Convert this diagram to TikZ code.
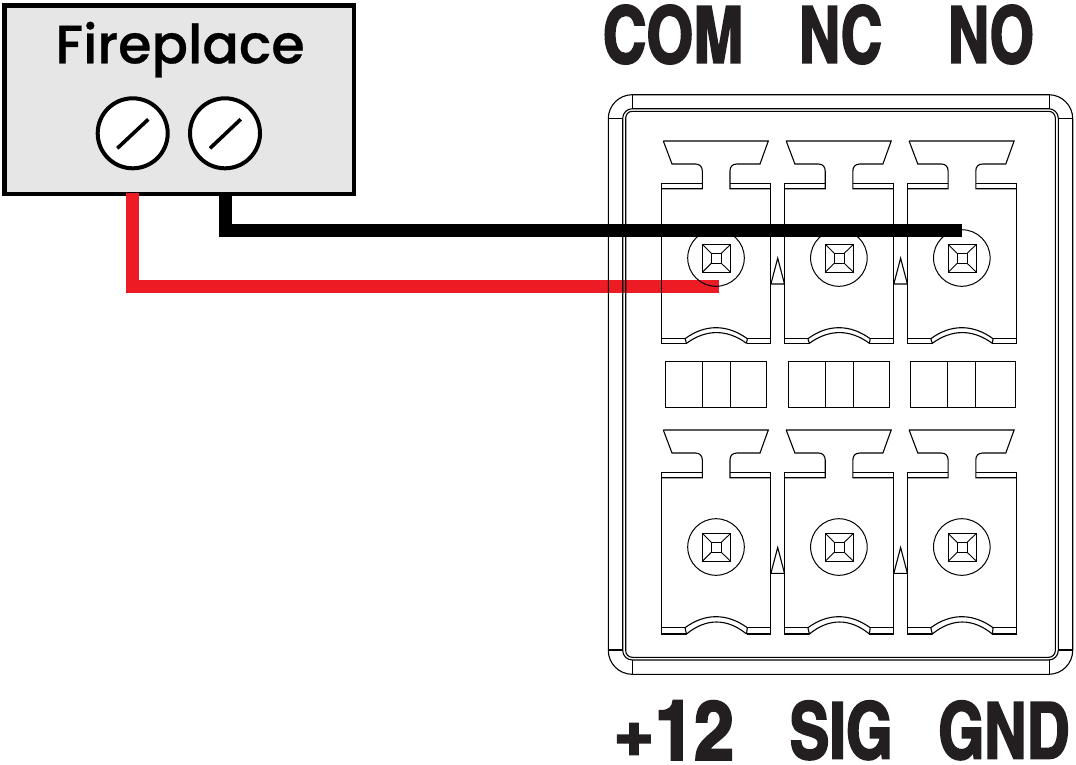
\documentclass[tikz,border=0pt]{standalone}
\usepackage{fontspec}
\usepackage{graphicx}
\setmainfont{Poppins}
\newfontfamily\firefont[FakeBold=0.5]{Poppins Medium}
\newfontfamily\labfont[FakeBold=2.6]{TeX Gyre Heros Cn Bold}
\definecolor{wirered}{HTML}{ED1C24}
\definecolor{boxgray}{HTML}{E6E6E6}
\definecolor{inkblack}{HTML}{231F20}
\tikzset{
  part/.style={draw=black,line width=1.1pt,line join=miter},
  heavy/.style={draw=black,line width=1.5pt},
  wire/.style={line width=12.7pt,line cap=butt,line join=miter},
  biglabel/.style={inner sep=0pt,outer sep=0pt,text=inkblack},
  fpbox/.style={draw=black,fill=boxgray,line width=4.5pt,inner sep=0pt,minimum width=349.5pt,minimum height=188.2pt},
  fpscrew/.style={circle,draw=black,fill=white,line width=4pt,inner sep=0pt,minimum size=70pt},
  slot/.style={draw=black,line width=3.6pt},
  termscrew/.style={circle,draw=black,line width=1pt,inner sep=0pt,minimum size=56.6pt}
}
\newcommand{\biglab}[5]{\node[biglabel] (#1) at (#2,#3) {\resizebox*{#4pt}{59pt}{\labfont #5}};}
% #1 x shift, #2 y shift, #3 name, #4 bottom edge
\newcommand{\terminalpart}[4]{%
\begin{scope}[shift={(#1,#2)}]
  \draw[part] (663.3,141) -- (768.3,141) -- (760,164) -- (737,164)
     .. controls (732,164) and (730,167) .. (730,171) -- (730,188.7) -- (770.7,188.7);
  \draw[part] (730,183.7) -- (770.7,183.7);
  \draw[part] (663.3,141) -- (672,164) -- (695.5,164)
     .. controls (700,164) and (702.3,167) .. (702.3,171) -- (702.3,188.7) -- (661.3,188.7);
  \draw[part] (702.3,183.7) -- (661.3,183.7);
  \draw[part] (661.3,183.7) -- (661.3,#4) -- (686.5,#4);
  \draw[part] (770.7,183.7) -- (770.7,#4) -- (746.5,#4);
  \draw[heavy] (661.3,338.7) -- (685,338.7);
  \draw[heavy] (747.3,338.7) -- (770.7,338.7);
  \draw[part] (685,338.7) .. controls (705,324) and (727,324) .. (747.3,338.7) -- (746.5,#4);
  \draw[part] (685,338.7) -- (686.5,#4) .. controls (706,329) and (727,329) .. (746.5,#4);
  \node[termscrew] (#3) at (716,258) {};
  \draw[part] (702.3,244.3) rectangle (730.7,272.3);
  \draw[part] (711.3,253.3) rectangle (721.3,263.3);
  \draw[part,line width=.9pt] (702.3,244.3) -- (711.3,253.3) (730.7,244.3) -- (721.3,253.3)
     (702.3,272.3) -- (711.3,263.3) (730.7,272.3) -- (721.3,263.3);
\end{scope}}
\newcommand{\rowbox}[4]{%
  \draw[part] (#1,361.3) rectangle (#4,407.2);
  \draw[part] (#2,361.3) -- (#2,407.2) (#3,361.3) -- (#3,407.2);}
\newcommand{\latch}[2]{\draw[part] (#1,#2) -- (#1+13.6,#2) -- (#1+6.8,#2-25.8) -- cycle;}
\begin{document}
\begin{tikzpicture}[x=1pt,y=-1pt]
\useasboundingbox (0,0) rectangle (1076,764);
\fill[white] (0,0) rectangle (1076,764);

% fireplace
\node[fpbox] (fire) at (179,99.65) {};
\node[anchor=base,inner sep=0pt,font=\firefont\fontsize{54}{54}\selectfont] (firetext) at (180,63.3) {Fireplace};
\node[fpscrew] (fs1) at (132.7,133.3) {};
\node[fpscrew] (fs2) at (225,133.3) {};
\coordinate (s1a) at (117.3,148.3); \coordinate (s1b) at (148.3,119.3);
\coordinate (s2a) at (210,148.3);   \coordinate (s2b) at (240.7,119.3);
\draw[slot] (s1a) -- (s1b);
\draw[slot] (s2a) -- (s2b);

% wires
\coordinate (redstart) at (132.3,192.7);
\coordinate (redend) at (719,286.3);
\coordinate (blackstart) at (225.3,194);
\coordinate (blackend) at (962,230.5);
\draw[wire,draw=wirered] (redstart) |- (redend);
\draw[wire,draw=black] (blackstart) |- (blackend);

% housing
\draw[part,rounded corners=24pt] (608.3,94.7) rectangle (1072.7,674.3);
\draw[part,rounded corners=9.6pt] (622.7,108.7) rectangle (1058.3,660);
\draw[part,rounded corners=6.6pt] (625.7,111.3) rectangle (1055.3,657.3);
\draw[part] (632.3,94.7) -- (632.3,108.7) (1049.3,94.7) -- (1049.3,108.7)
  (632.3,660) -- (632.3,674.3) (1049.3,660) -- (1049.3,674.3)
  (608.3,118.3) -- (622.7,118.3) (1058.3,118.3) -- (1072.7,118.3)
  (608.3,650) -- (622.7,650) (1058.3,650) -- (1072.7,650);

% terminals
\terminalpart{0}{0}{t1}{343.3}
\terminalpart{122.9}{0}{t2}{343.3}
\terminalpart{245.8}{0}{t3}{343.3}
\terminalpart{0}{289}{t4}{345}
\terminalpart{122.9}{289}{t5}{345}
\terminalpart{245.8}{289}{t6}{345}

% latches
\latch{770.9}{284}
\latch{893.8}{284}
\latch{770.9}{573.3}
\latch{893.8}{573.3}

% middle row
\rowbox{665.3}{702.3}{730.3}{766.3}
\rowbox{788.2}{825.2}{853.2}{889.2}
\rowbox{910.3}{947.3}{975.3}{1015.7}

% labels
\biglab{com}{673.3}{34.5}{141}{COM}
\biglab{nc}{840.6}{34.5}{83}{NC}
\biglab{no}{991.1}{34.5}{86}{NO}
\biglab{plus}{673.6}{730.3}{121}{+12}
\biglab{sig}{841}{730.3}{103}{SIG}
\biglab{gnd}{1003.8}{730.3}{131}{GND}
\end{tikzpicture}
\end{document}
